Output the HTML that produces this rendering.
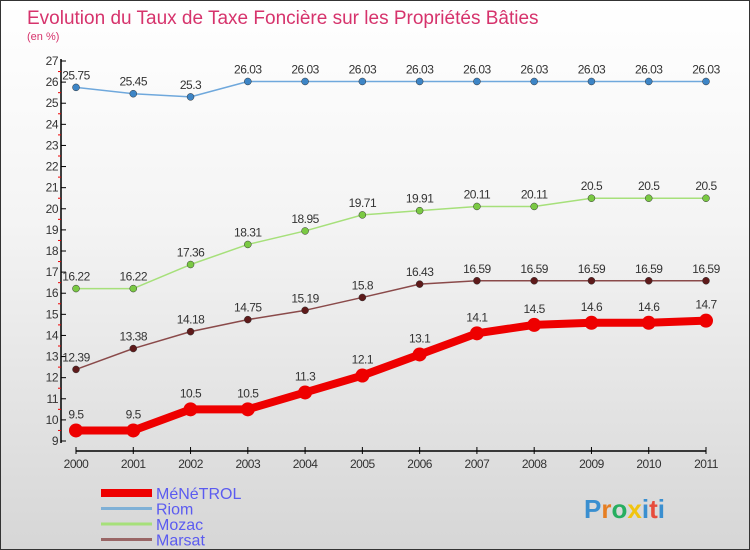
<!DOCTYPE html>
<html><head><meta charset="utf-8"><style>
body{margin:0}
#c{width:748px;height:548px;border:1px solid #333;background:linear-gradient(#ffffff,#f4f4f4 40%,#d6d6d6);position:relative;overflow:hidden}
text{font-family:"Liberation Sans",sans-serif}
</style></head><body>
<div id="c">
<svg id="s" width="748" height="548">
<text x="26" y="23" font-size="19" fill="#d6336c">Evolution du Taux de Taxe Foncière sur les Propriétés Bâties</text>
<text x="26" y="39" font-size="11" fill="#d6336c">(en %)</text>
<text x="583" y="517" font-size="26" font-weight="bold" fill="#3a8fd0">P<tspan fill="#e67e22">r</tspan><tspan fill="#27ae60">o</tspan><tspan fill="#f1c40f">x</tspan><tspan fill="#3a8fd0">i</tspan><tspan fill="#e74c3c">t</tspan><tspan fill="#3a8fd0">i</tspan></text>
</svg>
</div>
<script>
const years=[2000,2001,2002,2003,2004,2005,2006,2007,2008,2009,2010,2011];
const riom=[25.75,25.45,25.3,26.03,26.03,26.03,26.03,26.03,26.03,26.03,26.03,26.03];
const mozac=[16.22,16.22,17.36,18.31,18.95,19.71,19.91,20.11,20.11,20.5,20.5,20.5];
const marsat=[12.39,13.38,14.18,14.75,15.19,15.8,16.43,16.59,16.59,16.59,16.59,16.59];
const menetrol=[9.5,9.5,10.5,10.5,11.3,12.1,13.1,14.1,14.5,14.6,14.6,14.7];
const yTicks=[9,10,11,12,13,14,15,16,17,18,19,20,21,22,23,24,25,26,27];
const names=["MéNéTROL","Riom","Mozac","Marsat"];
const NS="http://www.w3.org/2000/svg",s=document.getElementById('s');
const X=i=>75+i*630/11, Y=v=>440-(v-9)*380/18;
function mk(t,a,p){const e=document.createElementNS(NS,t);for(const k in a)e.setAttribute(k,a[k]);(p||s).appendChild(e);return e;}
let ax=mk('line',{x1:60,y1:58,x2:60,y2:442,stroke:'#000','stroke-width':1.5});

let bx=mk('line',{x1:75,y1:450,x2:705,y2:450,stroke:'#000','stroke-width':1.5});

yTicks.forEach(v=>{
 mk('line',{x1:60,y1:Y(v),x2:65,y2:Y(v),stroke:'#000'});
 if(v<27)mk('line',{x1:57,y1:Y(v+0.5),x2:60,y2:Y(v+0.5),stroke:'#e00'});
 const t=mk('text',{x:57,y:Y(v)+4,'font-size':12,'text-anchor':'end',fill:'#333','letter-spacing':'-0.5'});t.textContent=v;
 
});
years.forEach((y,i)=>{
 mk('line',{x1:X(i),y1:446,x2:X(i),y2:453,stroke:'#000'});
 const t=mk('text',{x:X(i),y:467,'font-size':12,'text-anchor':'middle',fill:'#333','letter-spacing':'-0.5'});t.textContent=y;
 
});
function series(d,col,dot,w,r,name){
 const g=mk('g',{});
 mk('polyline',{points:d.map((v,i)=>X(i)+','+Y(v)).join(' '),fill:'none',stroke:col,'stroke-width':w,'stroke-linejoin':'round'},g);
 d.forEach((v,i)=>{
  const c=mk('circle',{cx:X(i),cy:Y(v),r:r,fill:dot,stroke:w>3?'none':'#333','stroke-width':0.5},g);
  
  const t=mk('text',{x:X(i),y:Y(v)-(w>3?12:8),'font-size':12,'text-anchor':'middle',fill:'#333','letter-spacing':'-0.5'},g);t.textContent=v;
 });
}
series(riom,'#6fa8dc','#3d85c6',1.5,3.5,'riom');
series(mozac,'#a6e07a','#7ac943',1.5,3.5,'mozac');
series(marsat,'#8a4a4a','#5e1a1a',1.5,3.5,'marsat');
series(menetrol,'#ee0000','#ee0000',8,7,'menetrol');
const lc=['#ee0000','#7fb0d6','#a6e07a','#996666'],lw=[8,3,3,3];
names.forEach((n,i)=>{
 const y=492+i*15.5;
 const g=mk('g',{});
 mk('line',{x1:100,y1:y,x2:151,y2:y,stroke:lc[i],'stroke-width':lw[i]},g);
 const t=mk('text',{x:155,y:y+6,'font-size':16,fill:'#5b5bf0'},g);t.textContent=n;
});
</script>
</body></html>
